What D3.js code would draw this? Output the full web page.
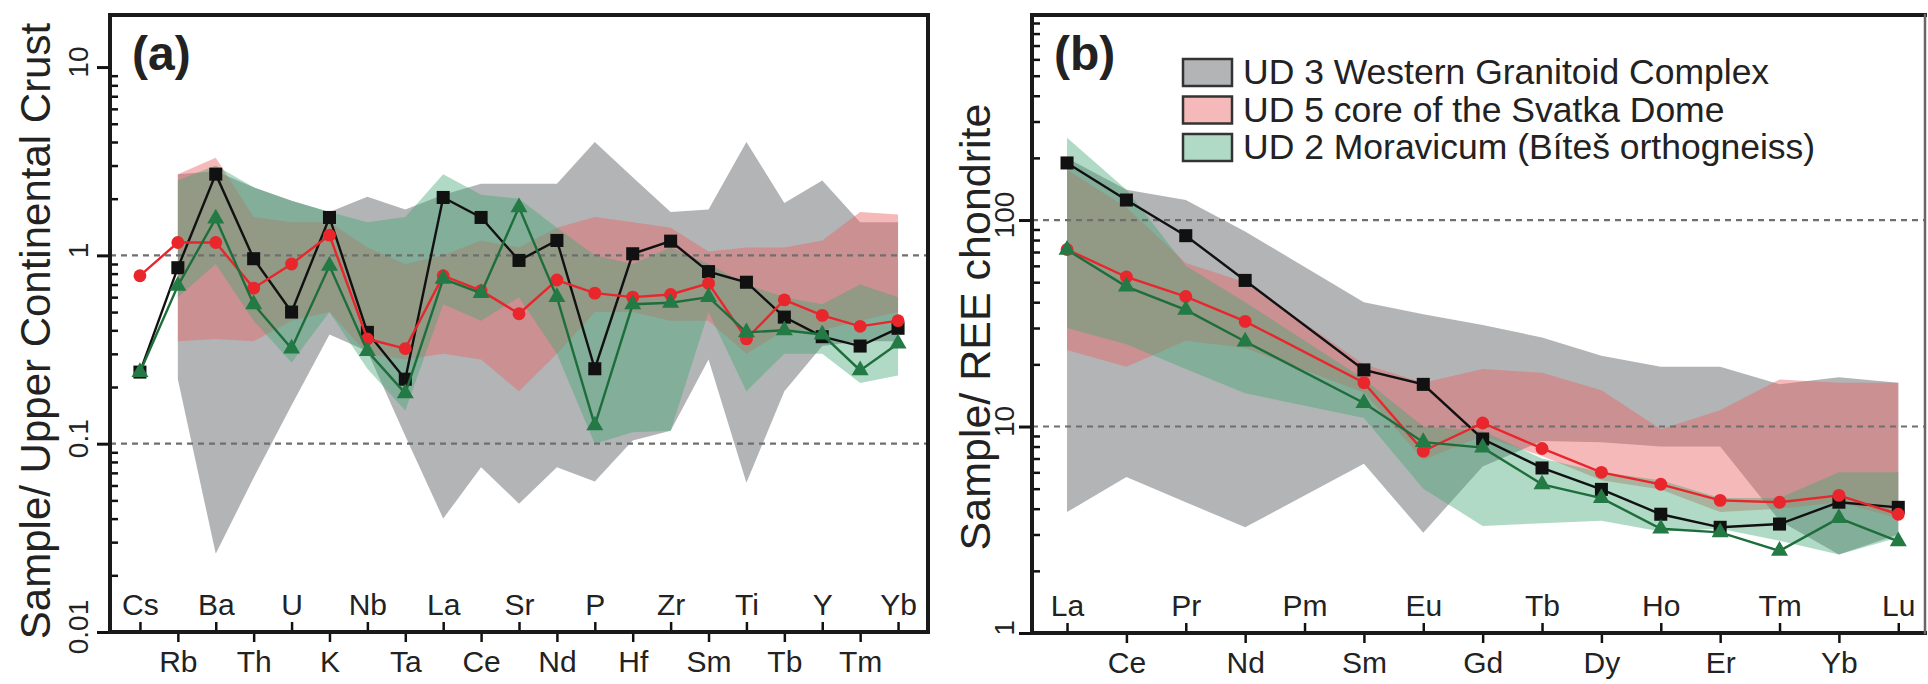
<!DOCTYPE html>
<html>
<head>
<meta charset="utf-8">
<script src="https://cdn.jsdelivr.net/npm/d3@7"></script>
<style>
    body { margin: 0; background: #fff; }
    svg { display: block; font-family: "Liberation Sans", Arial, sans-serif; }
</style>
</head>
<body>
<svg id="chart" width="1928" height="684"></svg>
<script>
// (a) trace elements normalised to upper continental crust
const elementsA = ["Cs","Rb","Ba","Th","U","K","Nb","Ta","La","Ce","Sr","Nd","P","Hf","Zr","Sm","Ti","Tb","Y","Tm","Yb"];
const ud3LineA = [0.24, 0.86, 2.7, 0.96, 0.50, 1.59, 0.39, 0.22, 2.03, 1.59, 0.94, 1.20, 0.25, 1.02, 1.19, 0.82, 0.72, 0.47, 0.37, 0.33, 0.41];
const ud5LineA = [0.78, 1.17, 1.17, 0.67, 0.90, 1.28, 0.36, 0.32, 0.78, 0.65, 0.49, 0.74, 0.63, 0.60, 0.62, 0.71, 0.36, 0.58, 0.48, 0.42, 0.45];
const ud2LineA = [0.24, 0.69, 1.57, 0.55, 0.32, 0.88, 0.31, 0.185, 0.75, 0.63, 1.8, 0.60, 0.125, 0.55, 0.56, 0.60, 0.39, 0.40, 0.38, 0.245, 0.34];
// envelopes (min / max of each group), no Cs data
const ud3HighA = [null, 2.7, 2.8, 2.3, 1.95, 1.7, 2.05, 1.75, 2.1, 2.4, 2.4, 2.4, 4.0, 2.6, 1.7, 1.75, 4.0, 1.9, 2.5, 1.5, 1.5];
const ud3LowA  = [null, 0.22, 0.026, 0.066, 0.16, 0.38, 0.31, 0.11, 0.040, 0.075, 0.048, 0.075, 0.063, 0.104, 0.117, 0.28, 0.062, 0.19, 0.33, 0.35, 0.35];
const ud5HighA = [null, 2.7, 3.3, 1.6, 1.5, 1.5, 1.1, 0.9, 1.0, 1.2, 1.1, 1.4, 1.6, 1.5, 1.4, 1.05, 1.1, 1.1, 1.2, 1.7, 1.65];
const ud5LowA  = [null, 0.35, 0.36, 0.35, 0.45, 0.5, 0.3, 0.28, 0.3, 0.28, 0.19, 0.3, 0.5, 0.5, 0.45, 0.45, 0.3, 0.4, 0.4, 0.45, 0.5];
const ud2HighA = [null, 2.5, 3.0, 2.3, 1.95, 1.7, 1.5, 1.6, 2.7, 2.1, 2.0, 1.4, 1.0, 0.9, 1.1, 0.9, 0.7, 0.6, 0.55, 0.7, 0.6];
const ud2LowA  = [null, 0.6, 0.9, 0.45, 0.27, 0.5, 0.25, 0.15, 0.55, 0.45, 0.6, 0.3, 0.1, 0.115, 0.117, 0.5, 0.19, 0.3, 0.3, 0.21, 0.23];
const yTicksA = [0.01, 0.1, 1, 10];
const yTickLabelsA = ["0.01", "0.1", "1", "10"];

// (b) REE normalised to chondrite (Pm has no data)
const elementsB = ["La","Ce","Pr","Nd","Pm","Sm","Eu","Gd","Tb","Dy","Ho","Er","Tm","Yb","Lu"];
const ud3LineB = [189, 125, 84, 51, null, 18.8, 16.0, 8.7, 6.3, 4.96, 3.76, 3.25, 3.37, 4.3, 4.06];
const ud5LineB = [72, 53, 42.6, 32.3, null, 16.3, 7.6, 10.4, 7.83, 6.0, 5.25, 4.39, 4.30, 4.64, 3.76];
const ud2LineB = [71.7, 47.6, 36.7, 25.8, null, 13.0, 8.4, 7.9, 5.25, 4.5, 3.2, 3.07, 2.5, 3.6, 2.78];
const ud3HighB = [200, 140, 125, 88, null, 40, 35, 31, 27, 22, 19.5, 19.5, 16, 17.3, 16.3];
const ud3LowB  = [3.85, 5.7, 4.3, 3.25, null, 6.6, 3.06, 6.4, 8.5, 8.4, 8, 8, 3.5, 2.4, 3.0];
const ud5HighB = [175, 115, 62, 50, null, 20, 16.3, 19, 18.2, 15, 9.7, 12, 16.9, 16.3, 16.3];
const ud5LowB  = [23.5, 19.5, 26, 24, null, 14.6, 6.9, 9, 7.2, 5.5, 4.96, 3.85, 4.0, 4.3, 3.6];
const ud2HighB = [250, 140, 60, 40, null, 17, 10, 9.5, 7, 6, 5.5, 4.5, 4.5, 6, 6];
const ud2LowB  = [30, 25, 19, 14.5, null, 11, 5, 3.3, 3.4, 3.5, 3.1, 3.2, 2.8, 2.4, 2.9];
const yTicksB = [1, 10, 100];
const yTickLabelsB = ["1", "10", "100"];

const legendLabels = ["UD 3 Western Granitoid Complex", "UD 5 core of the Svatka Dome", "UD 2 Moravicum (Bíteš orthogneiss)"];

const bandColors = {ud3: "#7f8286", ud5: "#e96464", ud2: "#43a775"};
const bandOpacity = {ud3: 0.6, ud5: 0.45, ud2: 0.42};
const lineColors = {ud3: "#111111", ud5: "#e8262c", ud2: "#1e6e3c"};

const svg = d3.select("#chart");

function drawPanel(cfg) {
    const g = svg.append("g");
    const x = d3.scaleLinear().domain(cfg.xDomain).range([cfg.left, cfg.right]);
    const y = d3.scaleLog().domain(cfg.yDomain).range([cfg.bottom, cfg.top]);
    const idx = cfg.elements.map((d, i) => i);

    // envelopes, gaps (null) are bridged
    const area = d3.area()
        .x(d => x(d.i))
        .y0(d => y(d.lo))
        .y1(d => y(d.hi));
    ["ud3", "ud5", "ud2"].forEach(k => {
        const pts = idx.filter(i => cfg.bands[k][0][i] != null)
            .map(i => ({i: i, lo: cfg.bands[k][0][i], hi: cfg.bands[k][1][i]}));
        g.append("path")
            .attr("d", area(pts))
            .attr("fill", bandColors[k])
            .attr("fill-opacity", bandOpacity[k]);
    });

    // dashed reference lines
    g.selectAll(".ref")
        .data(cfg.refLines)
        .enter()
        .append("line")
        .attr("x1", cfg.left).attr("x2", cfg.right)
        .attr("y1", d => y(d)).attr("y2", d => y(d))
        .attr("stroke", "#6f6f6f")
        .attr("stroke-width", 2.2)
        .attr("stroke-dasharray", "6,5");

    // sample patterns
    const line = d3.line().x(d => x(d.i)).y(d => y(d.v));
    ["ud3", "ud5", "ud2"].forEach(k => {
        const pts = idx.filter(i => cfg.lines[k][i] != null).map(i => ({i: i, v: cfg.lines[k][i]}));
        g.append("path")
            .attr("d", line(pts))
            .attr("fill", "none")
            .attr("stroke", lineColors[k])
            .attr("stroke-width", 2.4);
        const sym = k === "ud3" ? d3.symbolSquare : (k === "ud5" ? d3.symbolCircle : d3.symbolTriangle);
        const size = k === "ud3" ? 170 : (k === "ud5" ? 130 : 125);
        g.selectAll(".m" + k)
            .data(pts)
            .enter()
            .append("path")
            .attr("transform", d => "translate(" + x(d.i) + "," + y(d.v) + ")")
            .attr("d", d3.symbol().type(sym).size(size))
            .attr("fill", k === "ud2" ? "#237a45" : lineColors[k]);
    });

    // y axis: major ticks outside, minor ticks inside
    const minors = [];
    const lo = Math.round(Math.log10(cfg.yDomain[0]));
    for (let e = lo; e < 3; e++) {
        for (let m = 2; m <= 9; m++) {
            const v = m * Math.pow(10, e);
            if (v < cfg.yDomain[1]) minors.push(v);
        }
    }
    g.append("g")
        .attr("transform", "translate(" + cfg.left + ",0)")
        .call(d3.axisLeft(y).tickValues(cfg.yTicks).tickSize(13).tickFormat(""))
        .call(a => a.select(".domain").remove())
        .selectAll("line").attr("stroke-width", 3).attr("stroke", "#111");
    g.append("g")
        .attr("transform", "translate(" + cfg.left + ",0)")
        .call(d3.axisRight(y).tickValues(minors).tickSize(8).tickFormat(""))
        .call(a => a.select(".domain").remove())
        .selectAll("line").attr("stroke-width", 2.5).attr("stroke", "#111");
    g.selectAll(".ylab")
        .data(cfg.yTicks)
        .enter()
        .append("text")
        .attr("transform", (d, i) => "translate(" + cfg.yLabelX + "," + (y(d) - 5) + ") rotate(-90)")
        .attr("text-anchor", "middle")
        .attr("font-size", 28)
        .attr("fill", "#222")
        .text((d, i) => cfg.yTickLabels[i]);

    // x axis: alternate elements above (inside) and below the axis
    const upper = idx.filter(i => i % 2 === 0);
    const lower = idx.filter(i => i % 2 === 1);
    g.append("g")
        .attr("transform", "translate(0," + cfg.bottom + ")")
        .call(d3.axisTop(x).tickValues(upper).tickSize(10).tickPadding(7).tickFormat(i => cfg.elements[i]))
        .call(a => a.select(".domain").remove())
        .call(a => a.selectAll("line").attr("stroke-width", 2.5).attr("stroke", "#111"))
        .call(a => a.selectAll("text").attr("font-size", 30).attr("fill", "#222").attr("font-family", null));
    g.append("g")
        .attr("transform", "translate(0," + cfg.bottom + ")")
        .call(d3.axisBottom(x).tickValues(lower).tickSize(10).tickPadding(9).tickFormat(i => cfg.elements[i]))
        .call(a => a.select(".domain").remove())
        .call(a => a.selectAll("line").attr("stroke-width", 2.5).attr("stroke", "#111"))
        .call(a => a.selectAll("text").attr("font-size", 30).attr("fill", "#222").attr("font-family", null));

    // frame: heavy left/bottom/top, right edge as given
    const frame = g.append("g").attr("stroke", "#1a1a1a").attr("stroke-linecap", "square");
    frame.append("line").attr("x1", cfg.left).attr("x2", cfg.left).attr("y1", cfg.top).attr("y2", cfg.bottom).attr("stroke-width", 4);
    frame.append("line").attr("x1", cfg.left).attr("x2", cfg.right).attr("y1", cfg.bottom).attr("y2", cfg.bottom).attr("stroke-width", 4);
    frame.append("line").attr("x1", cfg.left).attr("x2", cfg.right).attr("y1", cfg.top).attr("y2", cfg.top).attr("stroke-width", 4);
    frame.append("line").attr("x1", cfg.right).attr("x2", cfg.right).attr("y1", cfg.top).attr("y2", cfg.bottom)
        .attr("stroke-width", cfg.rightWidth).attr("stroke", cfg.rightColor);

    // axis title and panel letter
    g.append("text")
        .attr("transform", "translate(" + cfg.titleX + "," + cfg.titleY + ") rotate(-90)")
        .attr("text-anchor", "middle")
        .attr("font-size", cfg.titleSize)
        .attr("fill", "#222")
        .text(cfg.title);
    g.append("text")
        .attr("x", cfg.left + 22).attr("y", 70)
        .attr("font-size", 48).attr("font-weight", "bold")
        .attr("fill", "#222")
        .text(cfg.letter);
    return g;
}

drawPanel({
    elements: elementsA, left: 110, right: 928, top: 15, bottom: 632,
    xDomain: [-0.79, 20.79], yDomain: [0.01, 18.9],
    yTicks: yTicksA, yTickLabels: yTickLabelsA, yLabelX: 88, refLines: [0.1, 1],
    lines: {ud3: ud3LineA, ud5: ud5LineA, ud2: ud2LineA},
    bands: {ud3: [ud3LowA, ud3HighA], ud5: [ud5LowA, ud5HighA], ud2: [ud2LowA, ud2HighA]},
    title: "Sample/ Upper Continental Crust", titleX: 50, titleY: 331, titleSize: 42, letter: "(a)",
    rightWidth: 4, rightColor: "#1a1a1a"
});

drawPanel({
    elements: elementsB, left: 1032, right: 1925, top: 15, bottom: 633,
    xDomain: [-0.59, 14.45], yDomain: [1, 984],
    yTicks: yTicksB, yTickLabels: yTickLabelsB, yLabelX: 1014, refLines: [10, 100],
    lines: {ud3: ud3LineB, ud5: ud5LineB, ud2: ud2LineB},
    bands: {ud3: [ud3LowB, ud3HighB], ud5: [ud5LowB, ud5HighB], ud2: [ud2LowB, ud2HighB]},
    title: "Sample/ REE chondrite", titleX: 990, titleY: 327, titleSize: 43, letter: "(b)",
    rightWidth: 2.5, rightColor: "#666"
});

// legend of panel (b)
const legend = svg.append("g");
const keys = ["ud3", "ud5", "ud2"];
legend.selectAll("rect")
    .data(keys)
    .enter()
    .append("rect")
    .attr("x", 1183).attr("y", (d, i) => 59 + i * 37.5)
    .attr("width", 49).attr("height", 27)
    .attr("fill", d => bandColors[d]).attr("fill-opacity", d => bandOpacity[d])
    .attr("stroke", "#333").attr("stroke-width", 2.5);
legend.selectAll("text")
    .data(legendLabels)
    .enter()
    .append("text")
    .attr("x", 1243).attr("y", (d, i) => 84 + i * 37.5)
    .attr("font-size", 35.5).attr("fill", "#222")
    .text(d => d);
</script>
